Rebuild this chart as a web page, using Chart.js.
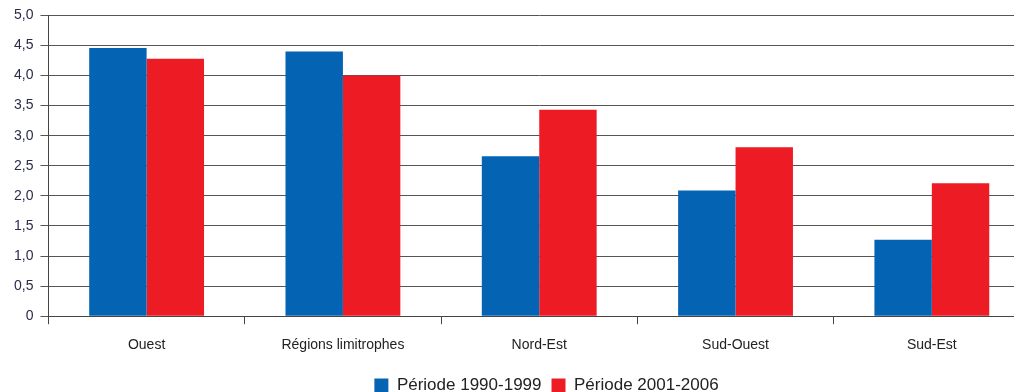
<!DOCTYPE html>
<html>
<head>
<meta charset="utf-8">
<script src="https://cdn.jsdelivr.net/npm/chart.js@4/dist/chart.umd.min.js"></script>
<style>
  html, body { margin: 0; padding: 0; background: #fff; overflow: hidden; }
  #wrap { width: 1040px; height: 392px; }
</style>
</head>
<body>
<div id="wrap"><canvas id="chart" width="1040" height="392"></canvas></div>
<script>
const regions = ['Ouest', 'Régions limitrophes', 'Nord-Est', 'Sud-Ouest', 'Sud-Est'];
const periode1990 = [4.46, 4.40, 2.66, 2.09, 1.27];
const periode2001 = [4.28, 4.00, 3.43, 2.81, 2.21];

const fontFamily = '"Liberation Sans Narrow", "Liberation Sans", Arial, sans-serif';

// decale la legende vers la droite, comme dans l'original
const legendShift = {
    id: 'legendShift',
    beforeDraw(chart) {
        const lg = chart.legend;
        if (lg && !lg._shifted) {
            lg.left += 28;
            lg.right += 28;
            lg._shifted = true;
        }
    }
};

const ctx = document.getElementById('chart').getContext('2d');
new Chart(ctx, {
    type: 'bar',
    data: {
        labels: regions,
        datasets: [{
            label: 'Période 1990-1999',
            data: periode1990,
            backgroundColor: '#0563b4',
            borderWidth: 0
        }, {
            label: 'Période 2001-2006',
            data: periode2001,
            backgroundColor: '#ed1c24',
            borderWidth: 0
        }]
    },
    options: {
        responsive: false,
        animation: false,
        layout: { padding: { top: 12, right: 10, left: 7, bottom: -12 } },
        datasets: {
            bar: { categoryPercentage: 0.585, barPercentage: 1 }
        },
        plugins: {
            tooltip: { enabled: false },
            legend: {
                position: 'bottom',
                labels: {
                    font: { family: fontFamily, size: 17 },
                    color: '#222',
                    boxWidth: 14,
                    boxHeight: 14,
                    padding: 10
                }
            }
        },
        scales: {
            x: {
                grid: {
                    offset: true,
                    drawOnChartArea: false,
                    drawTicks: true,
                    tickLength: 8,
                    color: '#444'
                },
                border: { color: '#444', width: 1 },
                ticks: {
                    font: { family: fontFamily, size: 14 },
                    color: '#222',
                    padding: 13
                }
            },
            y: {
                min: 0,
                max: 5,
                ticks: {
                    stepSize: 0.5,
                    font: { family: fontFamily, size: 14 },
                    color: '#2b2b4a',
                    padding: 7,
                    callback: function(value) {
                        return value === 0 ? '0' : value.toFixed(1).replace('.', ',');
                    }
                },
                grid: {
                    color: '#555',
                    lineWidth: 1,
                    tickLength: 8
                },
                border: { color: '#444', width: 1 }
            }
        }
    },
    plugins: [legendShift]
});
</script>
</body>
</html>
